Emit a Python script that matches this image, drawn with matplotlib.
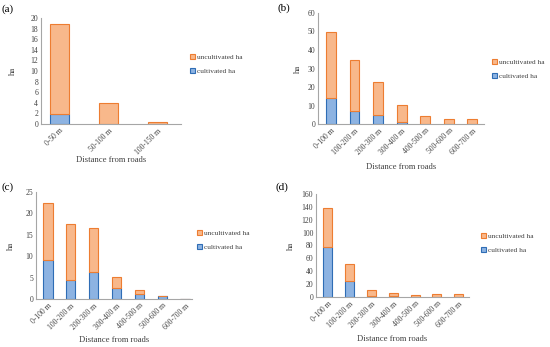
import numpy as np
import matplotlib
matplotlib.use("Agg")
import matplotlib.pyplot as plt

plt.rcParams['font.family'] = ['Liberation Serif', 'DejaVu Serif']

# (a)
cats_a = ['0-50 m', '50-100 m', '100-150 m']
cult_a = [1.9, 0.0, 0.0]
uncult_a = [17.0, 4.0, 0.3]

# (b)
cats_bcd = ['0-100 m', '100-200 m', '200-300 m', '300-400 m',
            '400-500 m', '500-600 m', '600-700 m']
cult_b = [14.0, 7.0, 5.0, 1.0, 0.2, 0.0, 0.0]
uncult_b = [36.0, 27.7, 17.5, 9.2, 4.0, 2.7, 2.5]

# (c)
cult_c = [9.2, 4.5, 6.2, 2.6, 1.2, 0.7, 0.1]
uncult_c = [13.2, 13.0, 10.3, 2.5, 0.8, 0.1, 0.0]

# (d)
cult_d = [78.0, 25.0, 2.0, 1.0, 0.5, 0.5, 0.5]
uncult_d = [60.0, 27.0, 9.0, 5.0, 2.5, 3.5, 3.5]

BLUE_F, BLUE_E = '#8DB3E2', '#2F6DB5'
ORG_F, ORG_E = '#F8B88B', '#ED7D31'
W, H = 550, 347

fig = plt.figure(figsize=(5.5, 3.47), dpi=100)


def panel(rect, cats, cult, uncult, ymax, step, xlim, width, tag, tagpos,
          ylab_x, xlab_y, leg_xy):
    l, b, r, t = rect
    ax = fig.add_axes([l / W, 1 - b / H, (r - l) / W, (b - t) / H])
    x = np.arange(len(cats))
    b1 = ax.bar(x, cult, width, color=BLUE_F, edgecolor=BLUE_E, linewidth=0.8,
                label='cultivated ha')
    b2 = ax.bar(x, uncult, width, bottom=cult, color=ORG_F, edgecolor=ORG_E,
                linewidth=0.8, label='uncultivated ha')
    ax.set_xlim(*xlim)
    ax.set_ylim(0, ymax)
    ax.set_yticks(np.arange(0, ymax + step / 2, step))
    ax.set_xticks(x)
    ax.set_xticklabels(cats, rotation=45, ha='right', rotation_mode='anchor')
    ax.tick_params(length=0, labelsize=5.5, pad=2, colors='#404040')
    for s in ['top', 'right']:
        ax.spines[s].set_visible(False)
    for s in ['left', 'bottom']:
        ax.spines[s].set_color('#A6A6A6')
        ax.spines[s].set_linewidth(0.8)
    fig.text(ylab_x / W, 1 - (b + t) / 2 / H, 'ha', rotation=90,
             ha='center', va='center', fontsize=6.3, color='#404040')
    fig.text((l + r) / 2 / W, 1 - xlab_y / H, 'Distance from roads',
             ha='center', va='center', fontsize=6.2, color='#404040')
    fig.text(tagpos[0] / W, 1 - tagpos[1] / H, tag, ha='left', va='center',
             fontsize=8)
    fig.legend([b2, b1], ['uncultivated ha', 'cultivated ha'],
               loc='center left', bbox_to_anchor=(leg_xy[0] / W, 1 - leg_xy[1] / H),
               frameon=False, fontsize=5.3, handlelength=0.75, handleheight=0.75,
               handletextpad=0.3, labelspacing=1.1, borderpad=0,
               labelcolor='#404040')


panel((41, 124, 181, 18), cats_a, cult_a, uncult_a, 20, 2, (-0.38, 2.49), 0.39,
      '(a)', (2, 9), 13, 160, (186, 64))
panel((318, 124, 484, 13), cats_bcd, cult_b, uncult_b, 60, 10, (-0.55, 6.5), 0.42,
      '(b)', (277, 8), 298, 167, (488, 69))
panel((36, 299, 192, 192), cats_bcd, cult_c, uncult_c, 25, 5, (-0.52, 6.3), 0.41,
      '(c)', (2, 187), 11, 340, (193, 240))
panel((316, 297, 469, 194), cats_bcd, cult_d, uncult_d, 160, 20, (-0.54, 6.47), 0.41,
      '(d)', (276, 187), 291, 339, (477, 243))

fig.savefig('out.png', dpi=100)
